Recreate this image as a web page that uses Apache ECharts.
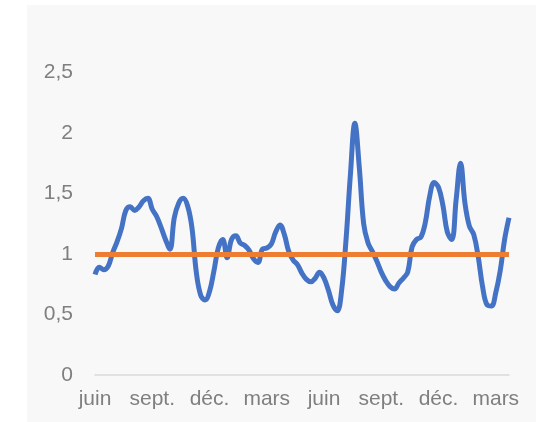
<!DOCTYPE html>
<html lang="fr">
<head>
    <meta charset="UTF-8">
    <title>Ratio</title>
    <script src="https://cdn.jsdelivr.net/npm/echarts@6/dist/echarts.min.js"></script>
    <style>
        html, body { margin: 0; padding: 0; background: #ffffff; }
        #main { width: 549px; height: 422px; }
    </style>
</head>
<body>
<div id="main"></div>
<script>
    // weekly points, first week = start of June
    const startDate = '2021-06-01';
    const ratio = [
        0.83, 0.89, 0.87, 0.90, 1.01, 1.10, 1.21, 1.36, 1.39, 1.36,
        1.39, 1.44, 1.46, 1.37, 1.31, 1.22, 1.12, 1.04, 1.30, 1.42,
        1.46, 1.40, 1.22, 0.85, 0.66, 0.62, 0.69, 0.86, 1.05, 1.12,
        0.97, 1.12, 1.15, 1.09, 1.07, 1.03, 0.96, 0.93, 1.04, 1.05,
        1.08, 1.18, 1.24, 1.16, 1.02, 0.95, 0.91, 0.84, 0.79, 0.77,
        0.80, 0.85, 0.80, 0.70, 0.58, 0.53, 0.70, 1.12, 1.66, 2.08,
        1.72, 1.25, 1.09, 1.02, 0.94, 0.85, 0.78, 0.73, 0.71, 0.76,
        0.80, 0.85, 1.06, 1.12, 1.14, 1.26, 1.48, 1.59, 1.55, 1.40,
        1.18, 1.12, 1.45, 1.75, 1.42, 1.23, 1.16, 0.98, 0.73, 0.58,
        0.57, 0.68, 0.86, 1.12, 1.30
    ];
    const baseline = [1];
    const monthLabels = ['juin', 'sept.', 'déc.', 'mars', 'juin', 'sept.', 'déc.', 'mars'];
    const monthLabelIdx = [0, 13, 26, 39, 52, 65, 78, 91];

    let weeks = [];
    let d0 = new Date(startDate + 'T00:00:00');
    ratio.forEach(function(v, i) {
        let d = new Date(d0.getTime() + i * 7 * 86400000);
        weeks.push(d.toISOString().slice(0, 10));
    });

    let myChart = echarts.init(document.getElementById('main'));
    let labelFont = {
        color: '#7f7f7f',
        fontSize: 21,
        fontFamily: 'Liberation Sans, Arial, sans-serif'
    };
    myChart.setOption({
        animation: false,
        graphic: [{
            type: 'rect',
            shape: { x: 27, y: 5, width: 509, height: 417 },
            style: { fill: '#f8f8f8' },
            z: -10,
            silent: true
        }],
        grid: {
            left: 95,
            right: 40,
            top: 72.5,
            bottom: 47
        },
        xAxis: {
            type: 'category',
            data: weeks,
            boundaryGap: false,
            axisLine: { lineStyle: { color: '#d9d9d9', width: 1.5 } },
            axisTick: { show: false },
            splitLine: { show: false },
            axisLabel: Object.assign({
                margin: 14,
                interval: function(index) {
                    return monthLabelIdx.indexOf(index) >= 0;
                },
                formatter: function(value, index) {
                    let k = monthLabelIdx.indexOf(index);
                    return k >= 0 ? monthLabels[k] : '';
                }
            }, labelFont)
        },
        yAxis: {
            type: 'value',
            min: 0,
            max: 2.5,
            interval: 0.5,
            axisLine: { show: false },
            axisTick: { show: false },
            splitLine: { show: false },
            axisLabel: Object.assign({
                margin: 22,
                formatter: function(v) {
                    return String(v).replace('.', ',');
                }
            }, labelFont)
        },
        series: [{
            name: 'ratio',
            type: 'line',
            data: ratio,
            smooth: 0.4,
            symbol: 'none',
            lineStyle: { color: '#4472c4', width: 5 },
            z: 2
        }, {
            name: 'référence',
            type: 'line',
            data: [],
            z: 3,
            markLine: {
                silent: true,
                symbol: ['none', 'none'],
                label: { show: false },
                lineStyle: { color: '#ed7d31', width: 5, type: 'solid' },
                data: baseline.map(function(v) { return { yAxis: v }; })
            }
        }]
    });
</script>
</body>
</html>
